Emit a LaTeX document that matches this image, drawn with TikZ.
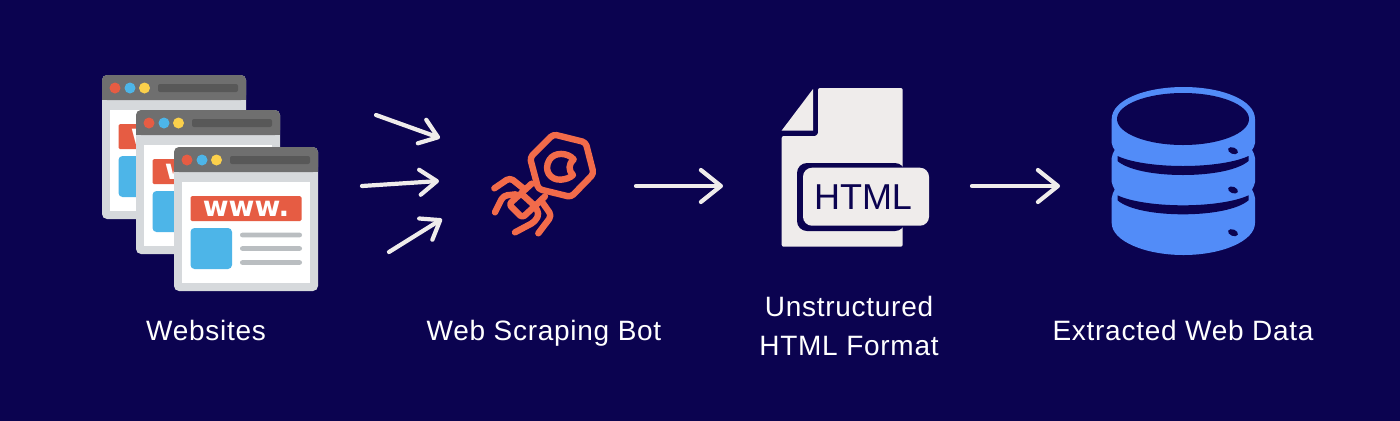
\documentclass[tikz,border=0pt]{standalone}
\usepackage{fontspec}
\setmainfont[LetterSpace=2.6]{Liberation Sans}
\newfontfamily\htmlfont{Liberation Sans}
\newfontfamily\wwwfont{DejaVu Sans Bold}
\usetikzlibrary{arrows.meta}
\definecolor{navy}{HTML}{0B0350}
\definecolor{paper}{HTML}{EFECEB}
\definecolor{winbar}{HTML}{6F6F6F}
\definecolor{winslot}{HTML}{585858}
\definecolor{winframe}{HTML}{D6D9DC}
\definecolor{winred}{HTML}{E65C43}
\definecolor{winblue}{HTML}{4DB5E8}
\definecolor{winyellow}{HTML}{FBD04B}
\definecolor{winline}{HTML}{BABEC1}
\definecolor{botcol}{HTML}{F26B4A}
\definecolor{dbblue}{HTML}{528CF8}
\tikzset{
  flow/.style={draw=paper,line width=4.2bp,line cap=round,line join=round,
    -{Straight Barb[length=20bp,width=32bp,round,line width=4.2bp]}},
  flowsmall/.style={draw=paper,line width=4.2bp,line cap=round,line join=round,
    -{Straight Barb[length=17bp,width=25bp,round,line width=4.2bp]}},
  label/.style={text=white,font=\fontsize{28bp}{33bp}\selectfont,inner sep=0pt,anchor=base},
  botline/.style={draw=botcol,line width=6.4bp,line cap=round,line join=round},
}
\newcommand\webwin[2]{%
\begin{scope}[shift={(#1,#2)}]
  \fill[winframe,rounded corners=5bp] (0,0) rectangle (144,144);
  \fill[winbar,rounded corners=5bp] (0,0) -- (144,0) -- (144,25) -- (0,25) -- cycle;
  \fill[winbar] (0,10) rectangle (144,25);
  \fill[white] (8,35) rectangle (136,136);
  \fill[winred,rounded corners=1.5bp] (16.5,49) rectangle (127.5,74);
  \fill[winblue,rounded corners=4bp] (16.5,81) rectangle (58,122);
  \foreach \yy in {88,101.5,115.5}
    \fill[winline,rounded corners=2.2bp] (66,\yy-2.3) rectangle (128,\yy+2.3);
  \fill[winred] (13,13) circle (5.5);
  \fill[winblue] (28,13) circle (5.5);
  \fill[winyellow] (42.5,13) circle (5.5);
  \fill[winslot,rounded corners=2bp] (56,9) rectangle (136,17);
  \node[inner sep=0pt,text=white,anchor=base,font=\wwwfont\fontsize{28bp}{28bp}\selectfont] (www#1) at (72,69.5) {www.};
\end{scope}}
\begin{document}
\begin{tikzpicture}[x=1bp,y=-1bp]
\useasboundingbox (0,0) rectangle (1400,420);
\fill[navy] (-5,-5) rectangle (1405,425);
% websites
\webwin{102}{75}
\webwin{136}{110}
\webwin{174}{147}
% arrows
\coordinate (a1s) at (376,115); \coordinate (a1e) at (440,138);
\coordinate (a2s) at (362,186); \coordinate (a2e) at (439,181);
\coordinate (a3s) at (389,252); \coordinate (a3e) at (442,219);
\coordinate (a4s) at (636,186); \coordinate (a4e) at (723,186);
\coordinate (a5s) at (972,186); \coordinate (a5e) at (1060,186);
\draw[flowsmall] (a1s) -- (a1e);
\draw[flowsmall] (a2s) -- (a2e);
\draw[flowsmall] (a3s) -- (a3e);
\draw[flow] (a4s) -- (a4e);
\draw[flow] (a5s) -- (a5e);
% bot
\begin{scope}[shift={(485,125)},x=0.3333bp,y=-0.3333bp]
  \draw[botline,rounded corners=3.5bp] (205,28) -- (302,52) -- (326,146) -- (258,216) -- (160,192) -- (135,98) -- cycle;
  \draw[botline] (266,103) .. controls (248,82) and (208,80) .. (193,105)
     .. controls (175,135) and (195,166) .. (228,164)
     .. controls (243,163) and (256,158) .. (264,150)
     .. controls (250,138) and (250,116) .. (266,103) -- cycle;
  \draw[botline,rounded corners=3bp] (108,205) -- (72,238) -- (112,278) -- (150,243) -- cycle;
  \draw[botline] (140,176) -- (108,205);
  \draw[botline] (180,214) -- (150,243);
  \draw[botline,rounded corners=4bp] (28,190) -- (75,158) -- (115,190);
  \draw[botline,rounded corners=4bp] (30,262) -- (55,212) -- (92,208);
  \draw[botline,rounded corners=4bp] (90,322) -- (150,290) -- (163,265) -- (148,243);
  \draw[botline,rounded corners=4bp] (160,325) -- (200,272) -- (172,232);
\end{scope}
% html file
\fill[paper,rounded corners=2bp] (818,88) -- (902.7,88) -- (902.7,246.7) -- (781.7,246.7) -- (781.7,136) -- (813,136)
   .. controls (816,136) and (818,134) .. (818,131) -- cycle;
\fill[paper] (813,89) -- (781.7,130.5) -- (813,130.5) -- cycle;
\fill[navy,rounded corners=10bp] (797,163) rectangle (905,231);
\fill[paper,rounded corners=9bp] (803,167.7) rectangle (929,225.7);
\node[inner sep=0pt,text=navy,font=\htmlfont\fontsize{36bp}{36bp}\selectfont] (html) at (863,197) {HTML};
% database
\fill[dbblue] (1111.7,119) .. controls (1111.7,100) and (1145,87) .. (1183.5,87)
   .. controls (1222,87) and (1255,100) .. (1255,119) -- (1255,143)
   .. controls (1255,146) and (1253,148) .. (1252,150)
   .. controls (1253,152) and (1255,155) .. (1255,158) -- (1255,182)
   .. controls (1255,185) and (1253,187) .. (1252,189.5)
   .. controls (1253,192) and (1255,195) .. (1255,198) -- (1255,223)
   .. controls (1255,241) and (1222,255) .. (1183.5,255)
   .. controls (1145,255) and (1111.7,241) .. (1111.7,223) -- (1111.7,198)
   .. controls (1111.7,195) and (1113.7,192) .. (1114.7,189.5)
   .. controls (1113.7,187) and (1111.7,185) .. (1111.7,182) -- (1111.7,158)
   .. controls (1111.7,155) and (1113.7,152) .. (1114.7,150)
   .. controls (1113.7,148) and (1111.7,146) .. (1111.7,143) -- cycle;
\fill[navy] (1183,119) ellipse [x radius=66,y radius=26];
\foreach \dy in {0,39.3} {
  \fill[navy] (1117.5,156+\dy) .. controls (1130,162+\dy) and (1155,166+\dy) .. (1183,166+\dy)
     .. controls (1211,166+\dy) and (1236,162+\dy) .. (1248.5,156+\dy)
     -- (1248.5,161+\dy)
     .. controls (1238,170+\dy) and (1212,175+\dy) .. (1183,175+\dy)
     .. controls (1154,175+\dy) and (1128,170+\dy) .. (1117.5,161+\dy) -- cycle;
}
\foreach \py in {150.7,190,232.7}
  \fill[navy,rotate around={-22:(1233,\py)}] (1233,\py) ellipse [x radius=5.2,y radius=3.2];
% labels
\node[label] (l1) at (206,340.7) {Websites};
\node[label] (l2) at (544,340.7) {Web Scraping Bot};
\node[label] (l3a) at (849,316.7) {Unstructured};
\node[label] (l3b) at (849,355.7) {HTML Format};
\node[label] (l4) at (1183,340.7) {Extracted Web Data};
\end{tikzpicture}
\end{document}
